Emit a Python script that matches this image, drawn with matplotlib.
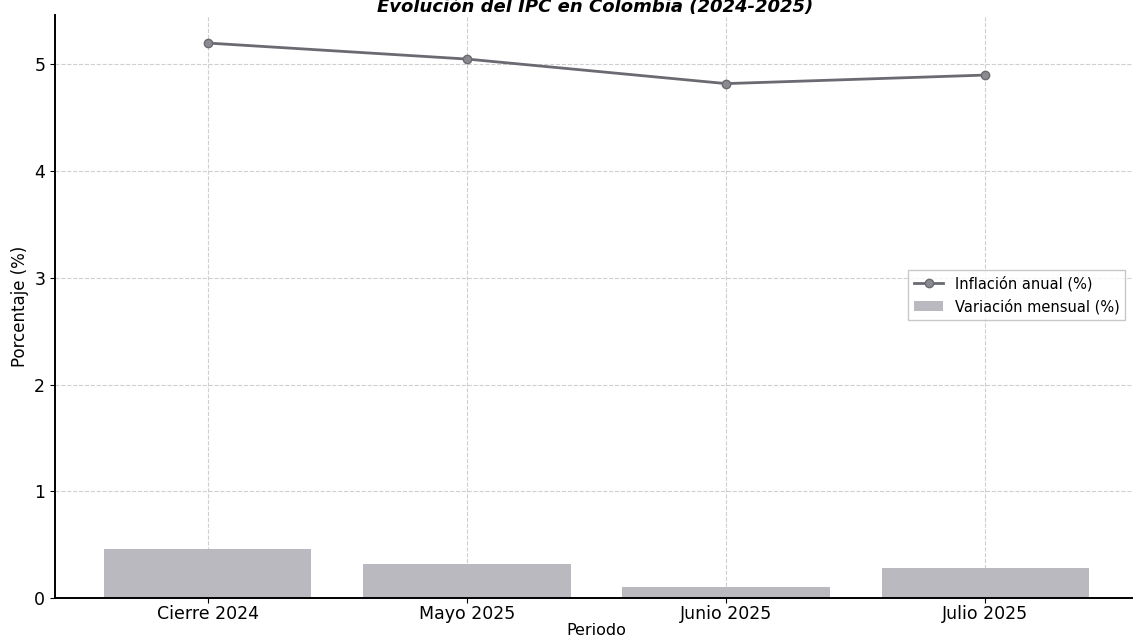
import matplotlib
matplotlib.use("Agg")
import matplotlib.pyplot as plt
import numpy as np

# Data
periodos = ["Cierre 2024", "Mayo 2025", "Junio 2025", "Julio 2025"]
inflacion_anual = [5.20, 5.05, 4.82, 4.90]
variacion_mensual = [0.46, 0.32, 0.10, 0.28]

LINE = "#6a6a72"
BAR = "#b9b9bf"

plt.rcParams["font.family"] = "DejaVu Sans"

fig = plt.figure(figsize=(11.33, 6.37), dpi=100)
ax = fig.add_axes([0.0485, 0.061, 0.956, 0.915])

x = np.arange(len(periodos))
ax.bar(x, variacion_mensual, width=0.8, color=BAR, label="Variación mensual (%)", zorder=2)
ax.plot(x, inflacion_anual, color=LINE, linewidth=2, marker="o", markersize=6,
        markerfacecolor="#8a8a90", markeredgecolor=LINE, label="Inflación anual (%)", zorder=3)

ax.set_xticks(x)
ax.set_xticklabels(periodos, fontsize=12.5)
ax.tick_params(axis="x", pad=1.5)
ax.tick_params(axis="y", labelsize=12.5)
ax.set_xlabel("Periodo", fontsize=11.5, labelpad=0)
ax.set_ylabel("Porcentaje (%)", fontsize=12)
ax.set_yticks([0, 1, 2, 3, 4, 5])

ax.grid(True, linestyle="--", color="#cfcfcf", linewidth=0.8, zorder=0)
ax.set_axisbelow(True)
for side in ("top", "right"):
    ax.spines[side].set_visible(False)
ax.spines["left"].set_linewidth(1.4)
ax.spines["bottom"].set_linewidth(1.4)

ax.legend(loc="center right", fontsize=10.5, frameon=True, fancybox=False,
          edgecolor="#bbbbbb", bbox_to_anchor=(0.995, 0.52))

# The reference scan crops the title at the top edge; keep it mostly in frame
fig.text(0.525, 1 - 12 / 637, "Evolución del IPC en Colombia (2024-2025)",
         ha="center", va="baseline", fontsize=13, fontweight="bold", fontstyle="italic")

fig.savefig("out.png", dpi=100)
